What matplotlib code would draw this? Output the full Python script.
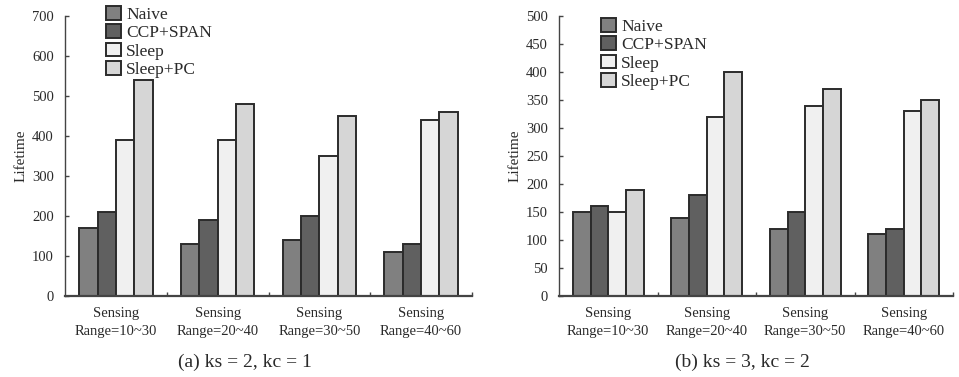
import matplotlib
matplotlib.use("Agg")
import matplotlib.pyplot as plt
import numpy as np
from matplotlib.patches import Patch

plt.rcParams['font.family'] = ['Liberation Serif', 'DejaVu Serif']

categories = ["Sensing\nRange=10~30", "Sensing\nRange=20~40",
              "Sensing\nRange=30~50", "Sensing\nRange=40~60"]
series = ["Naive", "CCP+SPAN", "Sleep", "Sleep+PC"]

# (a) ks = 2, kc = 1
naive_a = [170, 130, 140, 110]
ccp_a = [210, 190, 200, 130]
sleep_a = [390, 390, 350, 440]
sleeppc_a = [540, 480, 450, 460]

# (b) ks = 3, kc = 2
naive_b = [150, 140, 120, 110]
ccp_b = [160, 180, 150, 120]
sleep_b = [150, 320, 340, 330]
sleeppc_b = [190, 400, 370, 350]

colors = ["#808080", "#606060", "#f0f0f0", "#d6d6d6"]
edge = "#2b2b2b"
txt = "#2a2a2a"

W, H = 959, 377
fig = plt.figure(figsize=(W / 100, H / 100), dpi=100)


def draw(ax, data, ymax, ystep):
    x = np.arange(len(categories))
    width = 0.18
    for k, vals in enumerate(data):
        ax.bar(x + (k - 1.5) * width, vals, width, color=colors[k],
               edgecolor=edge, linewidth=1.4, zorder=2)
    ax.set_xlim(-0.5, 3.5)
    ax.set_ylim(0, ymax)
    ax.set_yticks(np.arange(0, ymax + 1, ystep))
    ax.set_xticks(x)
    ax.set_xticklabels(categories, fontsize=10.5, color=txt, linespacing=1.5)
    ax.set_xticks([0.5, 1.5, 2.5, 3.5], minor=True)
    ax.tick_params(axis='x', which='major', length=0, pad=8)
    ax.tick_params(axis='x', which='minor', direction='in', length=3,
                   width=1, color="#444444")
    ax.tick_params(axis='y', direction='in', length=3, width=1,
                   color="#444444", labelsize=10.5, labelcolor=txt, pad=8)
    for s in ("top", "right"):
        ax.spines[s].set_visible(False)
    ax.spines["left"].set_color("#444444")
    ax.spines["left"].set_linewidth(1.0)
    ax.spines["bottom"].set_color("#444444")
    ax.spines["bottom"].set_linewidth(1.6)
    ax.set_ylabel("Lifetime", fontsize=11, color=txt)


def px_axes(x0, x1, ytop, ybot):
    return fig.add_axes([x0 / W, 1 - ybot / H, (x1 - x0) / W, (ybot - ytop) / H])


ax1 = px_axes(65, 472, 16, 296)
draw(ax1, [naive_a, ccp_a, sleep_a, sleeppc_a], 700, 100)
ax1.yaxis.set_label_coords(-0.093, 0.5)

ax2 = px_axes(559, 953, 16, 296)
draw(ax2, [naive_b, ccp_b, sleep_b, sleeppc_b], 500, 50)
ax2.yaxis.set_label_coords(-0.094, 0.5)

handles = [Patch(facecolor=c, edgecolor=edge, linewidth=1.4) for c in colors]
for (lx, ly) in [(106, 6), (601, 18)]:
    fig.legend(handles, series, loc='upper left',
               bbox_to_anchor=(lx / W, 1 - ly / H), frameon=False,
               fontsize=12.5, handlelength=0.85, handleheight=0.85,
               handletextpad=0.3, labelspacing=0.08, borderpad=0,
               borderaxespad=0, labelcolor=txt)

fig.text(245 / W, 1 - 362 / H, "(a) ks = 2, kc = 1", ha='center',
         va='center', fontsize=14, color=txt)
fig.text(742 / W, 1 - 362 / H, "(b) ks = 3, kc = 2", ha='center',
         va='center', fontsize=14, color=txt)

fig.savefig("out.png", dpi=100, facecolor="white")
